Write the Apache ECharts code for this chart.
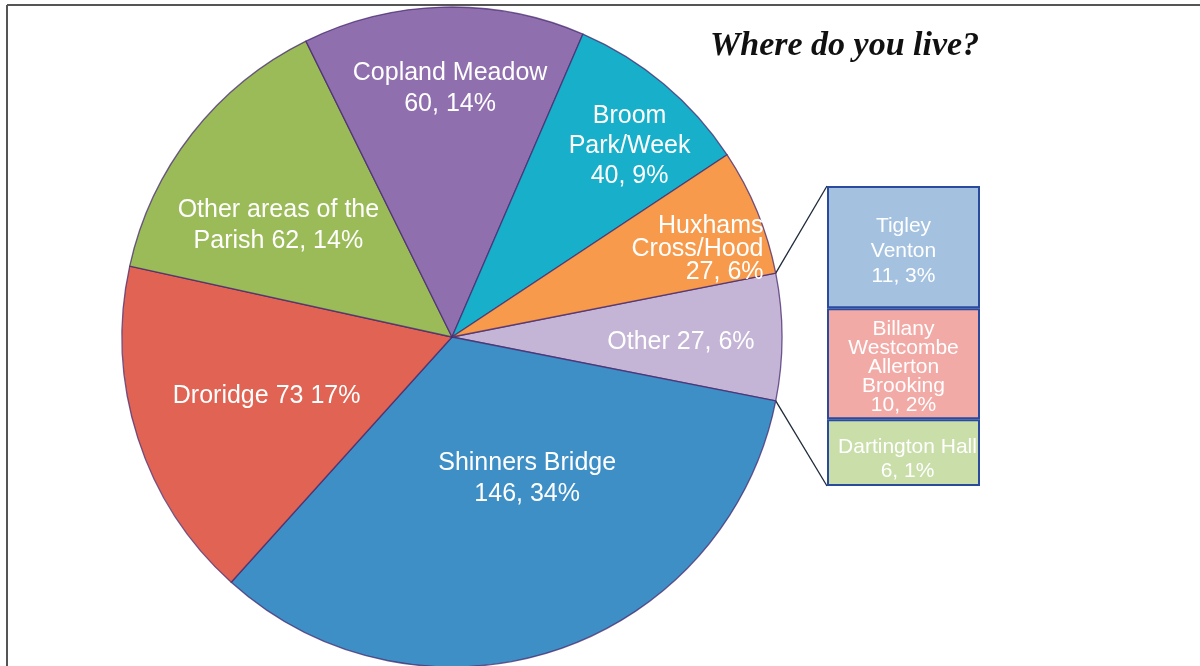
<!DOCTYPE html>
<html><head><meta charset="utf-8">
<script src="https://cdn.jsdelivr.net/npm/echarts@6/dist/echarts.min.js"></script>
<style>html,body{margin:0;padding:0;background:#fff}#c{width:1200px;height:666px}</style>
</head><body><div id="c"></div>
<script>
// ---- data ----
const pieNames = ['Other', 'Shinners Bridge', 'Droridge', 'Other areas of the Parish', 'Copland Meadow', 'Broom Park/Week', 'Huxhams Cross/Hood'];
const pieValues = [27, 146, 73, 62, 60, 40, 27];
const pieLabels = ['Other 27, 6%', 'Shinners Bridge\n146, 34%', 'Droridge 73 17%', 'Other areas of the\nParish 62, 14%', 'Copland Meadow\n60, 14%', 'Broom\nPark/Week\n40, 9%', 'Huxhams\nCross/Hood\n27, 6%'];
const barNames = ['Dartington Hall', 'Billany Westcombe Allerton Brooking', 'Tigley Venton'];
const barValues = [6, 10, 11];
const barLabels = ['Dartington Hall\n6, 1%', 'Billany\nWestcombe\nAllerton\nBrooking\n10, 2%', 'Tigley\nVenton\n11, 3%'];
const titleText = 'Where do you live?';

// ---- styles ----
const pieColors = ['#c4b4d6', '#3d8fc6', '#e06353', '#9bbb59', '#8f6fae', '#17afca', '#f79a4b'];
const pieLineHeights = [28, 31, 28, 31, 31, 30, 23];
const pieLabelRadius = [0.694, 0.485, 0.59, 0.625, 0.752, 0.79, 0.79];
const pieLabelAngleShift = [-1.4, 9.6, 0, 5.4, -1, -3, -2.7];
const pieLabelAlign = ['center', 'center', 'center', 'center', 'center', 'center', 'right'];
const barColors = ['#c9dea9', '#f2aaa6', '#a4c2e0'];
const barLineHeights = [24, 19, 25];
const barLabelOffsets = [[4, 7], [0, 3], [0, 4]];
const CX = 452, CY = 337, R = 330;
const GRID = {left: 827, top: 186, width: 153, height: 300};

const total = pieValues.reduce((a, b) => a + b, 0);
const startAngle = pieValues[0] / total * 360 / 2;
const midAngles = [];
{
  let a = startAngle;
  pieValues.forEach(v => { const span = v / total * 360; midAngles.push(a - span / 2); a -= span; });
}

const chart = echarts.init(document.getElementById('c'), null, {renderer: 'canvas'});
const barSum = barValues.reduce((a, b) => a + b, 0);

const option = {
  animation: false,
  backgroundColor: '#fff',
  title: {
    text: titleText, left: 705, top: 24,
    textStyle: {fontFamily: 'Liberation Serif', fontStyle: 'italic', fontWeight: 'bold', fontSize: 34, color: '#111'}
  },
  grid: {left: GRID.left, top: GRID.top, width: GRID.width, height: GRID.height},
  xAxis: {type: 'category', data: ['Other'], show: false},
  yAxis: {type: 'value', min: 0, max: barSum, show: false},
  series: [
    {
      type: 'pie', center: [CX, CY], radius: R, startAngle: startAngle, clockwise: true,
      avoidLabelOverlap: false,
      itemStyle: {borderColor: 'rgba(70,40,110,0.75)', borderWidth: 1.3},
      label: {position: 'inside', color: '#fff', fontFamily: 'Liberation Sans', fontSize: 25},
      labelLine: {show: false},
      labelLayout: function (p) {
        const i = p.dataIndex;
        const a = (midAngles[i] + pieLabelAngleShift[i]) * Math.PI / 180, f = pieLabelRadius[i];
        let x = CX + f * R * Math.cos(a);
        const y = CY - f * R * Math.sin(a);
        if (pieLabelAlign[i] === 'right') {
          return {x: x + p.labelRect.width / 2, y: y, align: 'right', verticalAlign: 'middle'};
        }
        return {x: x, y: y, align: 'center', verticalAlign: 'middle'};
      },
      data: pieNames.map((n, i) => ({
        name: n, value: pieValues[i], itemStyle: {color: pieColors[i]},
        label: {formatter: pieLabels[i], lineHeight: pieLineHeights[i], align: pieLabelAlign[i]}
      }))
    }
  ].concat(barNames.map((n, i) => ({
    type: 'bar', name: n, stack: 'other', barWidth: '100%',
    data: [barValues[i]],
    itemStyle: {color: barColors[i], borderColor: '#2a4a9e', borderWidth: 2},
    label: {show: true, position: 'inside', formatter: barLabels[i], color: '#fff', offset: barLabelOffsets[i],
      fontFamily: 'Liberation Sans', fontSize: 21, lineHeight: barLineHeights[i]}
  })))
};
chart.setOption(option);

// connector lines & frame
const a0 = startAngle * Math.PI / 180;
const yTop = chart.convertToPixel({yAxisIndex: 0}, barSum);
const yBot = chart.convertToPixel({yAxisIndex: 0}, 0);
chart.setOption({
  graphic: [
    {type: 'line', shape: {x1: CX + R * Math.cos(a0), y1: CY - R * Math.sin(a0), x2: GRID.left, y2: yTop}, style: {stroke: '#1d2a3a', lineWidth: 1.3}},
    {type: 'line', shape: {x1: CX + R * Math.cos(-a0), y1: CY - R * Math.sin(-a0), x2: GRID.left, y2: yBot}, style: {stroke: '#1d2a3a', lineWidth: 1.3}},
    {type: 'line', shape: {x1: 7, y1: 5, x2: 1200, y2: 5}, style: {stroke: '#555', lineWidth: 2}},
    {type: 'line', shape: {x1: 7, y1: 5, x2: 7, y2: 666}, style: {stroke: '#555', lineWidth: 2}}
  ]
});
</script></body></html>
